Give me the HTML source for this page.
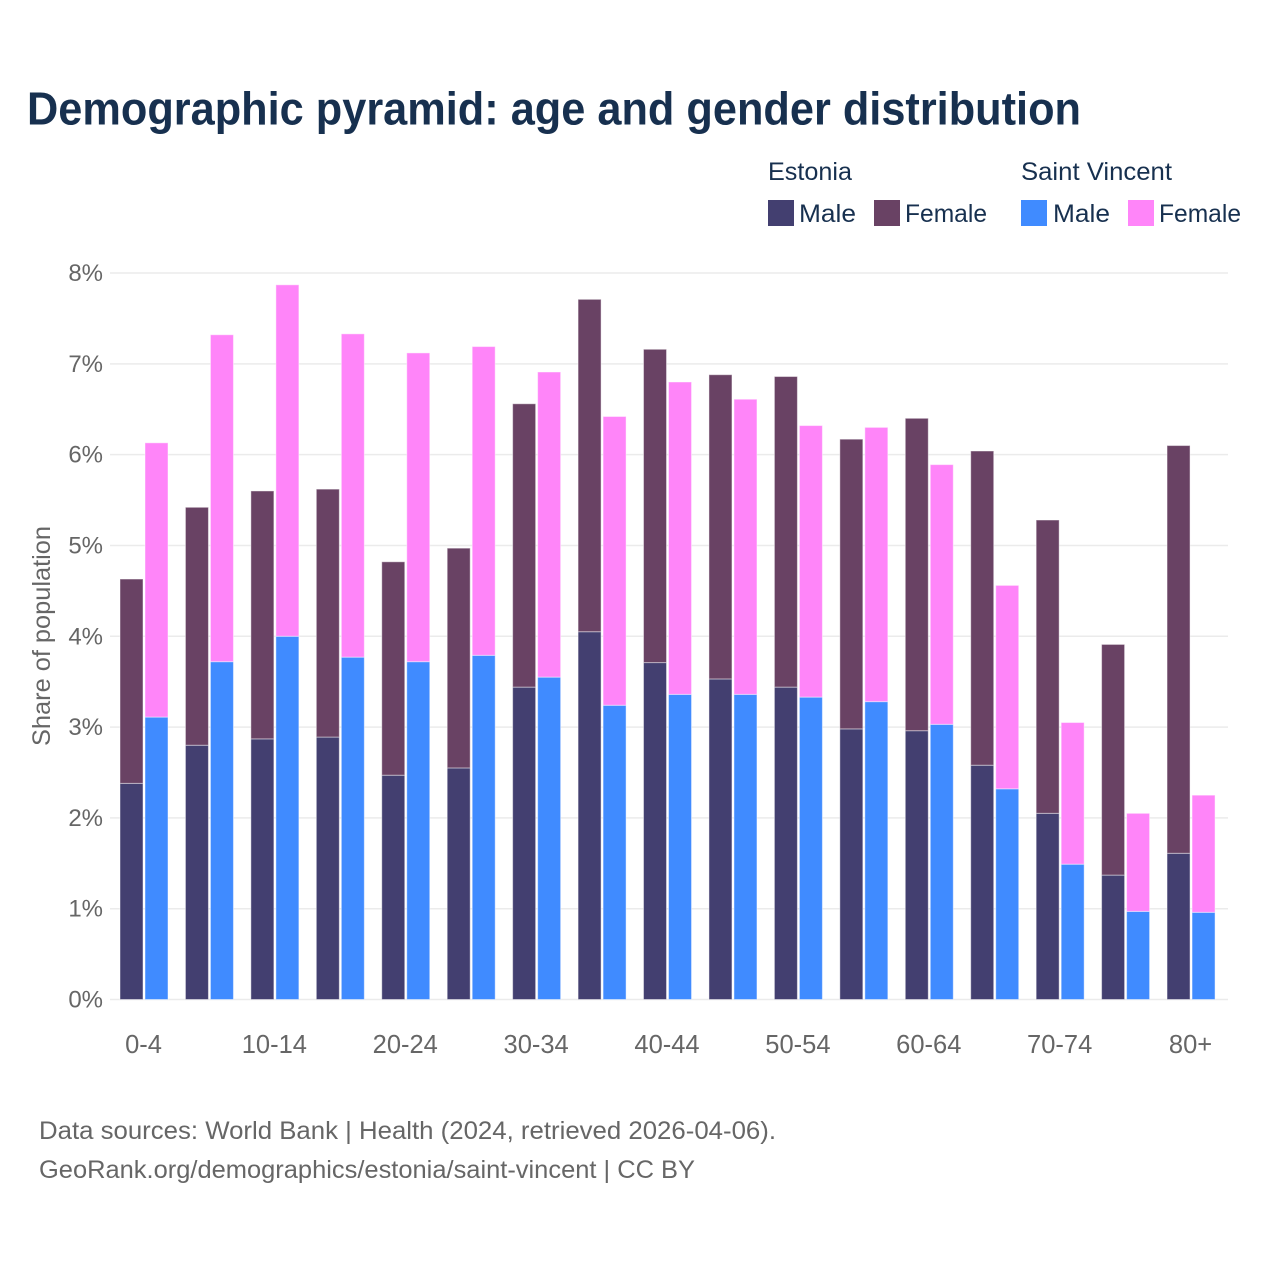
<!DOCTYPE html>
<html lang="en">
<head>
<meta charset="utf-8">
<title>Demographic pyramid: age and gender distribution</title>
<style>
  html, body { margin: 0; padding: 0; background: #fff; }
  svg { display: block; font-family: "Liberation Sans", sans-serif; }
</style>
</head>
<body>
<svg id="chart" xmlns="http://www.w3.org/2000/svg" width="1280" height="1280" viewBox="0 0 1280 1280">
  <rect x="0" y="0" width="1280" height="1280" fill="#ffffff"/>
  <text x="27" y="124.5" font-size="46" font-weight="700" fill="#17304f" textLength="1054" lengthAdjust="spacingAndGlyphs">Demographic pyramid: age and gender distribution</text>

  <g font-size="25" fill="#17304f">
    <text x="768" y="180" textLength="84" lengthAdjust="spacingAndGlyphs">Estonia</text>
    <text x="1021" y="180" textLength="151" lengthAdjust="spacingAndGlyphs">Saint Vincent</text>
    <rect x="768" y="200" width="26" height="26" fill="#433f70"/>
    <text x="799" y="222" textLength="57" lengthAdjust="spacingAndGlyphs">Male</text>
    <rect x="874" y="200" width="26" height="26" fill="#694264"/>
    <text x="905" y="222" textLength="82" lengthAdjust="spacingAndGlyphs">Female</text>
    <rect x="1021" y="200" width="26" height="26" fill="#408bff"/>
    <text x="1053" y="222" textLength="57" lengthAdjust="spacingAndGlyphs">Male</text>
    <rect x="1128" y="200" width="26" height="26" fill="#ff85f9"/>
    <text x="1159" y="222" textLength="82" lengthAdjust="spacingAndGlyphs">Female</text>
  </g>

  <g id="grid"></g>
  <g id="bars"></g>
  <g id="y-axis"></g>
  <g id="x-axis"></g>

  <text transform="translate(50,636) rotate(-90)" text-anchor="middle" font-size="25" fill="#666666" textLength="220" lengthAdjust="spacingAndGlyphs">Share of population</text>

  <text x="39" y="1139" font-size="25" fill="#666666" textLength="737" lengthAdjust="spacingAndGlyphs">Data sources: World Bank | Health (2024, retrieved 2026-04-06).</text>
  <text x="39" y="1178" font-size="25" fill="#666666" textLength="656" lengthAdjust="spacingAndGlyphs">GeoRank.org/demographics/estonia/saint-vincent | CC BY</text>
</svg>
<script>
const categories = ['0-4','5-9','10-14','15-19','20-24','25-29','30-34','35-39','40-44','45-49','50-54','55-59','60-64','65-69','70-74','75-79','80+'];
const estoniaMale = [2.38,2.80,2.87,2.89,2.47,2.55,3.44,4.05,3.71,3.53,3.44,2.98,2.96,2.58,2.05,1.37,1.61];
const estoniaFemale = [2.25,2.62,2.73,2.73,2.35,2.42,3.12,3.66,3.45,3.35,3.42,3.19,3.44,3.46,3.23,2.54,4.49];
const saintVincentMale = [3.11,3.72,4.00,3.77,3.72,3.79,3.55,3.24,3.36,3.36,3.33,3.28,3.03,2.32,1.49,0.97,0.96];
const saintVincentFemale = [3.02,3.60,3.87,3.56,3.40,3.40,3.36,3.18,3.44,3.25,2.99,3.02,2.86,2.24,1.56,1.08,1.29];
const yTicks = [0,1,2,3,4,5,6,7,8];
const xTickLabels = ['0-4','10-14','20-24','30-34','40-44','50-54','60-64','70-74','80+'];

const SVG_NS = 'http://www.w3.org/2000/svg';
const plot = { left: 110, right: 1228, top: 273, bottom: 999.5, firstBar: 120, step: 65.44, barWidth: 23, seriesOffset: 25 };
const yScale = function (v) {
  return plot.bottom - (v / yTicks[yTicks.length - 1]) * (plot.bottom - plot.top);
};
const xScale = function (i) {
  return plot.firstBar + i * plot.step;
};

function drawSegment(parent, x, v0, v1, fill) {
  const r = document.createElementNS(SVG_NS, 'rect');
  r.setAttribute('x', x);
  r.setAttribute('y', yScale(v1));
  r.setAttribute('width', plot.barWidth);
  r.setAttribute('height', yScale(v0) - yScale(v1));
  r.setAttribute('fill', fill);
  r.setAttribute('stroke', '#ffffff');
  r.setAttribute('stroke-opacity', '0.45');
  r.setAttribute('stroke-width', '1');
  parent.appendChild(r);
  return r;
}

const grid = document.getElementById('grid');
const yAxis = document.getElementById('y-axis');
yTicks.forEach(function (t) {
  const line = document.createElementNS(SVG_NS, 'line');
  
  
  line.setAttribute('x1', plot.left);
  line.setAttribute('x2', plot.right);
  line.setAttribute('y1', yScale(t));
  line.setAttribute('y2', yScale(t));
  line.setAttribute('stroke', '#ebebeb');
  line.setAttribute('stroke-width', '1.5');
  grid.appendChild(line);

  const label = document.createElementNS(SVG_NS, 'text');
  
  
  label.setAttribute('x', 103);
  label.setAttribute('y', yScale(t) + 8);
  label.setAttribute('text-anchor', 'end');
  label.setAttribute('font-size', '24');
  label.setAttribute('fill', '#666666');
  label.textContent = t + '%';
  yAxis.appendChild(label);
});

const bars = document.getElementById('bars');
categories.forEach(function (cat, i) {
  const x1 = xScale(i);
  const x2 = x1 + plot.seriesOffset;

  const em = drawSegment(bars, x1, 0, estoniaMale[i], '#433f70');
  
  

  const ef = drawSegment(bars, x1, estoniaMale[i], estoniaMale[i] + estoniaFemale[i], '#694264');
  
  

  const sm = drawSegment(bars, x2, 0, saintVincentMale[i], '#408bff');
  
  

  const sf = drawSegment(bars, x2, saintVincentMale[i], saintVincentMale[i] + saintVincentFemale[i], '#ff85f9');
  
  

  if (xTickLabels.indexOf(cat) !== -1) {
    const label = document.createElementNS(SVG_NS, 'text');
    
    
    label.setAttribute('x', x1 + plot.barWidth + 0.5);
    label.setAttribute('y', 1053);
    label.setAttribute('text-anchor', 'middle');
    label.setAttribute('font-size', '25.5');
    label.setAttribute('fill', '#666666');
    label.textContent = cat;
    document.getElementById('x-axis').appendChild(label);
  }
});
</script>
</body>
</html>
